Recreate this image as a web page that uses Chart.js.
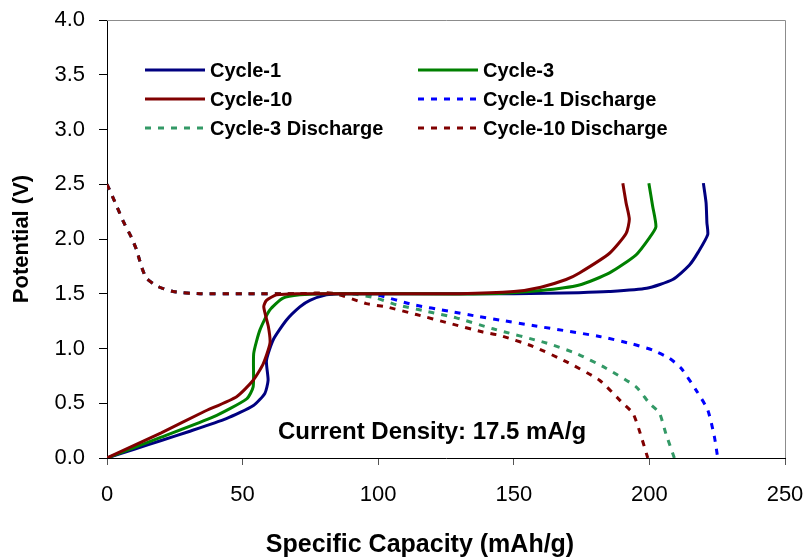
<!DOCTYPE html>
<html>
<head>
<meta charset="utf-8">
<script src="https://cdn.jsdelivr.net/npm/chart.js@4/dist/chart.umd.min.js"></script>
<style>
  html, body { margin: 0; padding: 0; background: #fff; }
  #wrap { width: 810px; height: 558px; }
</style>
</head>
<body>
<div id="wrap"><canvas id="chart"></canvas></div>
<script>
// charge curves (solid)
const cycle1X = [0, 10, 20, 30, 44, 54, 58.2, 59.4, 58.8, 61.3, 66.2, 71.1, 74.8, 80.9, 86, 100, 130, 150, 174, 185, 199, 208.6, 214.7, 218, 221.5, 221.2, 220.9, 219.9];
const cycle1Y = [0, 0.08, 0.16, 0.24, 0.36, 0.48, 0.59, 0.71, 0.89, 1.08, 1.26, 1.38, 1.44, 1.49, 1.5, 1.5, 1.5, 1.5, 1.51, 1.52, 1.55, 1.63, 1.76, 1.88, 2.04, 2.15, 2.33, 2.51];

const cycle3X = [0, 20, 39.2, 51.5, 53.9, 54.1, 56.4, 60, 64.9, 71.1, 80, 100, 140, 160, 174.2, 185.3, 195.1, 200, 202.4, 201.2, 199.8];
const cycle3Y = [0, 0.19, 0.375, 0.54, 0.65, 0.955, 1.17, 1.35, 1.46, 1.49, 1.5, 1.5, 1.5, 1.53, 1.58, 1.69, 1.855, 2.01, 2.11, 2.3, 2.51];

const cycle10X = [0, 20, 35.5, 47.8, 53.9, 57.6, 60.1, 59.5, 57.8, 58.8, 62.5, 70, 100, 130, 150, 160, 169.3, 174.2, 185.3, 191.4, 192.6, 191.4, 190.2];
const cycle10Y = [0, 0.23, 0.42, 0.56, 0.71, 0.86, 1.05, 1.2, 1.38, 1.44, 1.49, 1.5, 1.5, 1.5, 1.52, 1.56, 1.63, 1.69, 1.87, 2.05, 2.18, 2.33, 2.51];

// discharge curves (dashed)
const dis1X = [0, 3.6, 6, 9.1, 10.9, 12.7, 14.6, 18.9, 24.4, 34.3, 50, 70, 90, 99.3, 112.9, 126.3, 137.4, 144.8, 157, 181.6, 193.9, 201.2, 207.4, 211.7, 217.2, 221.5, 224, 225.2];
const dis1Y = [2.5, 2.3, 2.16, 2.01, 1.9, 1.75, 1.64, 1.565, 1.52, 1.5, 1.5, 1.5, 1.5, 1.49, 1.4, 1.34, 1.29, 1.26, 1.21, 1.11, 1.04, 0.985, 0.91, 0.82, 0.62, 0.44, 0.19, 0];

const dis3X = [0, 3.6, 6, 9.1, 10.9, 12.7, 14.6, 18.9, 24.4, 34.3, 50, 70, 90, 99.3, 106.7, 117.7, 128.8, 142.3, 162, 173, 184, 195.1, 200, 203.7, 206.1, 209.2];
const dis3Y = [2.5, 2.3, 2.16, 2.01, 1.9, 1.75, 1.64, 1.565, 1.52, 1.5, 1.5, 1.5, 1.5, 1.46, 1.4, 1.34, 1.28, 1.18, 1.05, 0.955, 0.82, 0.65, 0.5, 0.41, 0.22, 0];

const dis10X = [0, 3.6, 6, 9.1, 10.9, 12.7, 14.6, 18.9, 24.4, 34.3, 50, 70, 83.4, 95.6, 103, 114.1, 126.3, 138.6, 144.8, 157, 169.3, 181.6, 190.2, 193.9, 196.3, 199.4];
const dis10Y = [2.5, 2.3, 2.16, 2.01, 1.9, 1.75, 1.64, 1.565, 1.52, 1.5, 1.5, 1.5, 1.505, 1.41, 1.38, 1.31, 1.23, 1.15, 1.12, 1.02, 0.88, 0.71, 0.5, 0.41, 0.25, 0];

const xTicks = [0, 50, 100, 150, 200, 250];
const yTicks = [0, 0.5, 1, 1.5, 2, 2.5, 3, 3.5, 4];

const FONT = "Arial, 'Liberation Sans', sans-serif";

function toPoints(xs, ys) {
  return xs.map((x, i) => ({ x, y: ys[i] }));
}

function series(label, xs, ys, color, dashed, order) {
  return {
    label,
    data: toPoints(xs, ys),
    borderColor: color,
    backgroundColor: color,
    borderWidth: 3,
    borderDash: dashed ? [6, 7] : [],
    borderCapStyle: 'butt',
    pointRadius: 0,
    tension: 0.2,
    fill: false,
    order,
  };
}

const decor = {
  id: 'decor',
  beforeDatasetsDraw(chart) {
    const { ctx, chartArea: a } = chart;
    ctx.save();
    ctx.strokeStyle = '#8c8c8c';
    ctx.lineWidth = 1;
    ctx.beginPath();
    ctx.moveTo(a.left, a.top + 0.5);
    ctx.lineTo(a.right + 0.5, a.top + 0.5);
    ctx.lineTo(a.right + 0.5, a.bottom);
    ctx.stroke();
    ctx.restore();
  },
  afterDraw(chart) {
    const { ctx } = chart;
    ctx.save();
    // legend
    const cols = [145, 418];
    const rows = [70, 99, 128];
    ctx.font = `bold 20px ${FONT}`;
    ctx.textAlign = 'left';
    ctx.textBaseline = 'alphabetic';
    chart.data.datasets.forEach((ds, i) => {
      const x = cols[i % 2];
      const y = rows[Math.floor(i / 2)];
      ctx.strokeStyle = ds.borderColor;
      ctx.lineWidth = 3;
      ctx.setLineDash(ds.borderDash);
      ctx.beginPath();
      ctx.moveTo(x, y);
      ctx.lineTo(x + 60, y);
      ctx.stroke();
      ctx.setLineDash([]);
      ctx.fillStyle = '#000';
      ctx.fillText(ds.label, x + 65, y + 7);
    });
    // annotation
    ctx.font = `bold 24px ${FONT}`;
    ctx.fillText('Current Density: 17.5 mA/g', 278, 439);
    // x axis title
    ctx.font = `bold 25px ${FONT}`;
    ctx.textAlign = 'center';
    ctx.textBaseline = 'middle';
    ctx.fillText('Specific Capacity (mAh/g)', 420, 545);
    ctx.restore();
  },
};

new Chart(document.getElementById('chart'), {
  type: 'line',
  data: {
    datasets: [
      series('Cycle-1', cycle1X, cycle1Y, '#000080', false, 3),
      series('Cycle-3', cycle3X, cycle3Y, '#008000', false, 2),
      series('Cycle-10', cycle10X, cycle10Y, '#800000', false, 1),
      series('Cycle-1 Discharge', dis1X, dis1Y, '#0000ff', true, 6),
      series('Cycle-3 Discharge', dis3X, dis3Y, '#339966', true, 5),
      series('Cycle-10 Discharge', dis10X, dis10Y, '#800000', true, 4),
    ],
  },
  options: {
    responsive: true,
    maintainAspectRatio: false,
    animation: false,
    devicePixelRatio: 1,
    layout: { padding: { top: 20, right: 25, left: 0, bottom: 0 } },
    plugins: {
      legend: { display: false },
      tooltip: { enabled: false },
    },
    scales: {
      x: {
        type: 'linear',
        min: 0,
        max: 250,
        afterBuildTicks: scale => { scale.ticks = xTicks.map(value => ({ value })); },
        afterFit: scale => {
          scale.height = 100;
          scale.paddingLeft = 0;
          scale.paddingRight = 0;
        },
        grid: { display: true, drawOnChartArea: false, tickLength: 7, color: '#555' },
        border: { color: '#000', width: 1 },
        ticks: { color: '#000', padding: 17, font: { family: FONT, size: 22 } },
      },
      y: {
        type: 'linear',
        min: 0,
        max: 4,
        afterBuildTicks: scale => { scale.ticks = yTicks.map(value => ({ value })); },
        afterFit: scale => {
          scale.width = 107;
          scale.paddingTop = 0;
          scale.paddingBottom = 0;
        },
        grid: { display: true, drawOnChartArea: false, tickLength: 8, color: '#000' },
        border: { color: '#000', width: 1 },
        ticks: { color: '#000', padding: 14, font: { family: FONT, size: 22 }, callback: v => v.toFixed(1) },
        title: {
          display: true,
          text: 'Potential (V)',
          color: '#000',
          font: { family: FONT, size: 22, weight: 'bold' },
          padding: { top: 9, bottom: 0 },
        },
      },
    },
  },
  plugins: [decor],
});
</script>
</body>
</html>
